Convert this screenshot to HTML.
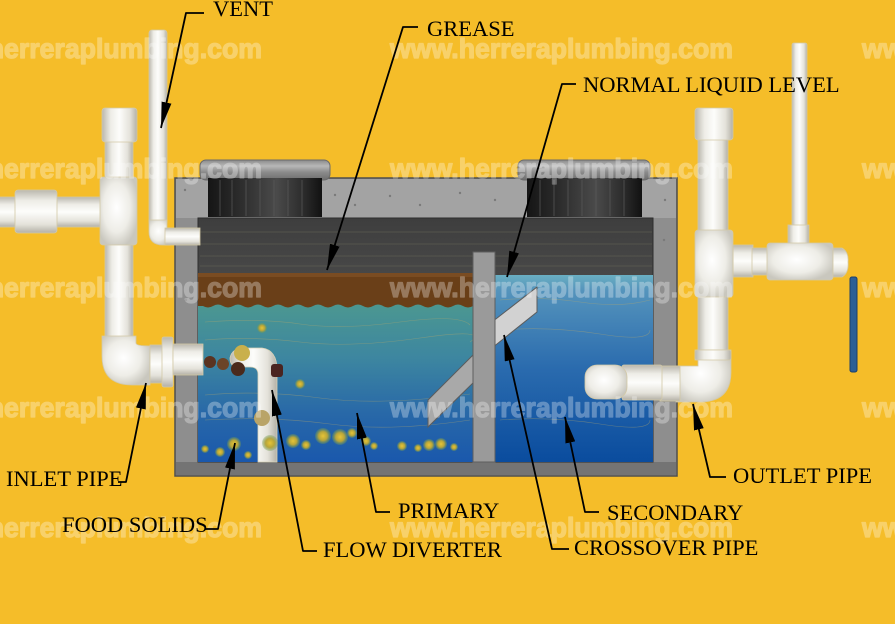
<!DOCTYPE html>
<html><head><meta charset="utf-8"><style>
html,body{margin:0;padding:0;background:#F5BD29;}
svg{display:block;}
</style></head><body>
<svg width="895" height="624" viewBox="0 0 895 624" xmlns="http://www.w3.org/2000/svg">
<defs>
<linearGradient id="gv" x1="0" y1="0" x2="1" y2="0">
<stop offset="0" stop-color="#BAB7AD"/><stop offset="0.25" stop-color="#EEEDE7"/><stop offset="0.5" stop-color="#FDFDFB"/><stop offset="0.8" stop-color="#E4E2DA"/><stop offset="1" stop-color="#B3B0A6"/>
</linearGradient>
<linearGradient id="gh" x1="0" y1="0" x2="0" y2="1">
<stop offset="0" stop-color="#BAB7AD"/><stop offset="0.25" stop-color="#EEEDE7"/><stop offset="0.5" stop-color="#FDFDFB"/><stop offset="0.8" stop-color="#E4E2DA"/><stop offset="1" stop-color="#B3B0A6"/>
</linearGradient>
<radialGradient id="gr" cx="0.45" cy="0.45" r="0.6">
<stop offset="0" stop-color="#FFFFFF"/><stop offset="0.6" stop-color="#EEEDE7"/><stop offset="1" stop-color="#C9C7BE"/>
</radialGradient>
<linearGradient id="dark" x1="0" y1="0" x2="0" y2="1">
<stop offset="0" stop-color="#3E3E3E"/><stop offset="0.3" stop-color="#4A4A4A"/><stop offset="1" stop-color="#404040"/>
</linearGradient>
<linearGradient id="prim" x1="0" y1="0" x2="0" y2="1">
<stop offset="0" stop-color="#4C9890"/><stop offset="0.35" stop-color="#3D86A0"/><stop offset="0.7" stop-color="#2868A8"/><stop offset="1" stop-color="#1A58AC"/>
</linearGradient>
<linearGradient id="sec" x1="0" y1="0" x2="0" y2="1">
<stop offset="0" stop-color="#6AAFC2"/><stop offset="0.08" stop-color="#5594BC"/><stop offset="0.5" stop-color="#2A6BAE"/><stop offset="1" stop-color="#0A4C9E"/>
</linearGradient>
<linearGradient id="hole" x1="0" y1="0" x2="1" y2="0">
<stop offset="0" stop-color="#151515"/><stop offset="0.3" stop-color="#2E2E2E"/><stop offset="0.6" stop-color="#4A4A4A"/><stop offset="0.85" stop-color="#2A2A2A"/><stop offset="1" stop-color="#111"/>
</linearGradient>
<linearGradient id="rim" x1="0" y1="0" x2="0" y2="1">
<stop offset="0" stop-color="#8A8A8A"/><stop offset="0.3" stop-color="#B8B8B8"/><stop offset="0.6" stop-color="#8C8C8C"/><stop offset="1" stop-color="#6E6E6E"/>
</linearGradient>
<radialGradient id="blob" cx="0.5" cy="0.5" r="0.5">
<stop offset="0" stop-color="#E6C437"/><stop offset="0.55" stop-color="#B7A53A"/><stop offset="1" stop-color="#6E9A55" stop-opacity="0.3"/>
</radialGradient>
<marker id="ah" viewBox="0 0 26 10" refX="26" refY="5" markerWidth="26" markerHeight="10" markerUnits="userSpaceOnUse" orient="auto">
<path d="M0,0 L26,5 L0,10 Z" fill="#000"/>
</marker>
</defs>

<rect x="0" y="0" width="895" height="624" fill="#F5BD29"/>

<!-- Tank -->
<rect x="175" y="178" width="502" height="298" fill="#8C8C8C" stroke="#4E4E4E" stroke-width="1.5"/>
<rect x="176" y="179" width="500" height="39" fill="#A3A3A3"/>
<rect x="176" y="218" width="22" height="257" fill="#8E8E8E"/>
<rect x="653" y="218" width="23" height="257" fill="#8E8E8E"/>
<rect x="176" y="462" width="500" height="13" fill="#747474"/>
<rect x="198" y="218" width="455" height="244" fill="url(#dark)" stroke="#2E2E2E" stroke-width="1"/>
<g stroke="#6A6A5A" stroke-width="0.7" opacity="0.6" fill="none">
<path d="M200,232 H652 M200,244 H652 M200,256 H652 M200,266 H652"/>
</g>
<g fill="#7A7A7A">
<circle cx="335" cy="195" r="1.2"/><circle cx="355" cy="205" r="1.2"/><circle cx="390" cy="196" r="1.2"/><circle cx="420" cy="205" r="1.2"/><circle cx="460" cy="193" r="1.2"/><circle cx="495" cy="200" r="1.2"/><circle cx="185" cy="190" r="1.2"/><circle cx="665" cy="200" r="1.2"/><circle cx="664" cy="240" r="1.2"/><circle cx="186" cy="300" r="1.2"/>
</g>

<!-- Manholes -->
<rect x="200" y="160" width="130" height="20" rx="6" fill="url(#rim)" stroke="#6A6A6A"/>
<rect x="208" y="178" width="114" height="39" fill="url(#hole)"/>
<rect x="518" y="160" width="132" height="20" rx="6" fill="url(#rim)" stroke="#6A6A6A"/>
<rect x="527" y="178" width="115" height="39" fill="url(#hole)"/>
<g stroke="#5A5A5A" stroke-width="1" opacity="0.7">
<path d="M220,180 V216 M232,180 V216 M246,180 V216 M260,180 V216 M274,180 V216 M288,180 V216 M302,180 V216 M540,180 V216 M554,180 V216 M568,180 V216 M582,180 V216 M596,180 V216 M610,180 V216 M624,180 V216"/>
</g>

<!-- Primary water -->
<rect x="198" y="302" width="275" height="160" fill="url(#prim)"/>
<!-- Grease -->
<path d="M198,273 H473 V306 Q468,309 463,306 Q458,303 453,306 Q448,309 443,306 Q438,303 433,306 Q428,309 423,306 Q418,303 413,306 Q408,309 403,306 Q398,303 393,306 Q388,309 383,306 Q378,303 373,306 Q368,309 363,306 Q358,303 353,306 Q348,309 343,306 Q338,303 333,306 Q328,309 323,306 Q318,303 313,306 Q308,309 303,306 Q298,303 293,306 Q288,309 283,306 Q278,303 273,306 Q268,309 263,306 Q258,303 253,306 Q248,309 243,306 Q238,303 233,306 Q228,309 223,306 Q218,303 213,306 Q208,309 203,306 L198,306 Z" fill="#6A3F18"/>
<rect x="198" y="273" width="275" height="4" fill="#7A4C22"/>
<!-- Secondary water -->
<rect x="495" y="275" width="158" height="187" fill="url(#sec)"/>

<g stroke="#B8A86A" stroke-width="0.6" fill="none" opacity="0.45">
<path d="M205,322 Q260,318 300,324 T400,322 T470,325"/>
<path d="M205,340 Q250,336 300,342 T420,338 T470,342"/>
<path d="M205,395 Q260,390 320,398 T470,394"/>
<path d="M205,420 Q270,416 330,424 T470,420"/>
<path d="M500,300 Q540,296 580,302 T650,300"/>
<path d="M500,330 Q550,326 600,334 T650,330"/>
<path d="M500,420 Q550,416 600,424 T650,420"/>
</g>

<!-- Crossover pipe -->
<polygon points="428,400 476,352 476,380 428,427" fill="#A9A9A9" stroke="#5C5C5C" stroke-width="1"/>
<polygon points="492,322 537,287 537,312 492,348" fill="#D2D2D2" stroke="#5C5C5C" stroke-width="1"/>
<!-- Divider -->
<rect x="473" y="252" width="22" height="210" fill="#9A9A9A" stroke="#5E5E5E" stroke-width="1"/>

<!-- Flow diverter -->
<path d="M258,462 V374 Q258,367 250,367 H238 Q230,367 230,358 Q232,348 244,348 H262 Q277,350 277,370 V462 Z" fill="url(#gv)" stroke="#D8D2B8" stroke-width="0.8"/>

<!-- Food solids -->
<g>
<circle cx="205" cy="449" r="4" fill="url(#blob)"/>
<circle cx="220" cy="452" r="5" fill="url(#blob)"/>
<circle cx="234" cy="444" r="7" fill="url(#blob)"/>
<circle cx="248" cy="455" r="4" fill="url(#blob)"/>
<circle cx="270" cy="443" r="8" fill="url(#blob)"/>
<circle cx="293" cy="441" r="7" fill="url(#blob)"/>
<circle cx="306" cy="445" r="5" fill="url(#blob)"/>
<circle cx="323" cy="436" r="8" fill="url(#blob)"/>
<circle cx="340" cy="437" r="8" fill="url(#blob)"/>
<circle cx="352" cy="433" r="5" fill="url(#blob)"/>
<circle cx="366" cy="441" r="5" fill="url(#blob)"/>
<circle cx="374" cy="446" r="4" fill="url(#blob)"/>
<circle cx="402" cy="446" r="5" fill="url(#blob)"/>
<circle cx="418" cy="448" r="4" fill="url(#blob)"/>
<circle cx="429" cy="445" r="6" fill="url(#blob)"/>
<circle cx="441" cy="444" r="6" fill="url(#blob)"/>
<circle cx="454" cy="447" r="4" fill="url(#blob)"/>
<circle cx="262" cy="328" r="5" fill="url(#blob)"/>
<circle cx="300" cy="384" r="5" fill="url(#blob)"/>
<circle cx="262" cy="418" r="8" fill="#B9A468"/>
<circle cx="242" cy="353" r="8" fill="#C9B04C"/>
<circle cx="210" cy="362" r="6" fill="#5A3320"/>
<circle cx="223" cy="364" r="6" fill="#6B4428"/>
<circle cx="238" cy="369" r="7" fill="#4A2A1C"/>
<rect x="271" y="364" width="12" height="13" rx="3" fill="#4A2420"/>
</g>

<!-- Inlet pipes -->
<rect x="-2" y="197" width="104" height="30" fill="url(#gh)" stroke="#D3C9A6" stroke-width="0.8"/>
<rect x="15" y="190" width="42" height="43" rx="3" fill="url(#gh)" stroke="#D3C9A6" stroke-width="0.8"/>
<rect x="105" y="140" width="28" height="200" fill="url(#gv)" stroke="#D3C9A6" stroke-width="0.8"/>
<rect x="102" y="108" width="35" height="34" rx="3" fill="url(#gv)" stroke="#D3C9A6" stroke-width="0.8"/>
<rect x="100" y="177" width="37" height="68" rx="3" fill="url(#gr)" stroke="#D3C9A6" stroke-width="0.8"/>
<path d="M102,336 H136 V343 Q136,346 150,346 V385 H132 Q102,385 102,356 Z" fill="url(#gr)" stroke="#D3C9A6" stroke-width="0.8"/>
<rect x="150" y="345" width="13" height="38" fill="url(#gh)" stroke="#D3C9A6" stroke-width="0.8"/>
<rect x="162" y="337" width="11" height="50" rx="2" fill="url(#gh)" stroke="#D3C9A6" stroke-width="0.8"/>
<rect x="173" y="344" width="30" height="31" fill="url(#gh)" stroke="#D3C9A6" stroke-width="0.8"/>

<!-- Vent -->
<rect x="149" y="30" width="18" height="195" rx="3" fill="url(#gv)" stroke="#D3C9A6" stroke-width="0.8"/>
<path d="M149,220 V232 Q149,245 163,245 H170 V228 H167 V220 Z" fill="url(#gr)" stroke="#D3C9A6" stroke-width="0.8"/>
<rect x="165" y="228" width="35" height="17" fill="url(#gh)" stroke="#D3C9A6" stroke-width="0.8"/>

<!-- Outlet pipes -->
<rect x="698" y="138" width="30" height="215" fill="url(#gv)" stroke="#D3C9A6" stroke-width="0.8"/>
<rect x="695" y="108" width="38" height="32" rx="3" fill="url(#gv)" stroke="#D3C9A6" stroke-width="0.8"/>
<rect x="733" y="245" width="20" height="32" fill="url(#gh)" stroke="#D3C9A6" stroke-width="0.8"/>
<rect x="752" y="248" width="16" height="27" fill="url(#gh)" stroke="#D3C9A6" stroke-width="0.8"/>
<rect x="695" y="230" width="38" height="67" rx="3" fill="url(#gr)" stroke="#D3C9A6" stroke-width="0.8"/>
<rect x="792" y="43" width="15" height="185" rx="2" fill="url(#gv)" stroke="#D3C9A6" stroke-width="0.8"/>
<rect x="788" y="225" width="21" height="20" fill="url(#gv)" stroke="#D3C9A6" stroke-width="0.8"/>
<path d="M831,248 H842 Q849,252 848,262 Q849,273 842,277 H831 Z" fill="url(#gh)" stroke="#D3C9A6" stroke-width="0.8"/>
<rect x="767" y="243" width="66" height="37" rx="3" fill="url(#gr)" stroke="#D3C9A6" stroke-width="0.8"/>
<path d="M695,350 H731 V372 Q731,402 700,402 H676 V366 H698 V360 H695 Z" fill="url(#gr)" stroke="#D3C9A6" stroke-width="0.8"/>
<rect x="695" y="350" width="36" height="10" rx="2" fill="url(#gv)" stroke="#D3C9A6" stroke-width="0.8"/>
<rect x="660" y="366" width="20" height="35" fill="url(#gh)" stroke="#D3C9A6" stroke-width="0.8"/>
<rect x="622" y="365" width="40" height="35" rx="2" fill="url(#gh)" stroke="#D3C9A6" stroke-width="0.8"/>
<rect x="585" y="365" width="42" height="34" rx="12" fill="url(#gr)" stroke="#D3C9A6" stroke-width="0.8"/>

<!-- Blue bar -->
<rect x="850" y="277" width="7" height="95" rx="2" fill="#2C5F96" stroke="#1B3F6A" stroke-width="1"/>

<!-- Watermarks -->
<g font-family="Liberation Sans, Arial, sans-serif" font-weight="bold" font-size="28" fill="#FFFFFF" stroke="#FFFFFF" stroke-width="1.3" stroke-linejoin="round" opacity="0.3">
<text x="-81" y="58" textLength="343" lengthAdjust="spacingAndGlyphs">www.herreraplumbing.com</text>
<text x="390" y="58" textLength="343" lengthAdjust="spacingAndGlyphs">www.herreraplumbing.com</text>
<text x="862" y="58" textLength="343" lengthAdjust="spacingAndGlyphs">www.herreraplumbing.com</text>
<text x="-81" y="178" textLength="343" lengthAdjust="spacingAndGlyphs">www.herreraplumbing.com</text>
<text x="390" y="178" textLength="343" lengthAdjust="spacingAndGlyphs">www.herreraplumbing.com</text>
<text x="862" y="178" textLength="343" lengthAdjust="spacingAndGlyphs">www.herreraplumbing.com</text>
<text x="-81" y="297" textLength="343" lengthAdjust="spacingAndGlyphs">www.herreraplumbing.com</text>
<text x="390" y="297" textLength="343" lengthAdjust="spacingAndGlyphs">www.herreraplumbing.com</text>
<text x="862" y="297" textLength="343" lengthAdjust="spacingAndGlyphs">www.herreraplumbing.com</text>
<text x="-81" y="417" textLength="343" lengthAdjust="spacingAndGlyphs">www.herreraplumbing.com</text>
<text x="390" y="417" textLength="343" lengthAdjust="spacingAndGlyphs">www.herreraplumbing.com</text>
<text x="862" y="417" textLength="343" lengthAdjust="spacingAndGlyphs">www.herreraplumbing.com</text>
<text x="-81" y="537" textLength="343" lengthAdjust="spacingAndGlyphs">www.herreraplumbing.com</text>
<text x="390" y="537" textLength="343" lengthAdjust="spacingAndGlyphs">www.herreraplumbing.com</text>
<text x="862" y="537" textLength="343" lengthAdjust="spacingAndGlyphs">www.herreraplumbing.com</text>
</g>

<!-- Leader lines -->
<g fill="none" stroke="#000" stroke-width="1.8" stroke-linejoin="round" marker-end="url(#ah)">
<polyline points="204,13 186,13 161,128"/>
<polyline points="418,27 403,27 327,270"/>
<polyline points="576,84 562,84 507,277"/>
<polyline points="118,482 126,482 146,383"/>
<polyline points="205,529 218,529 235,443"/>
<polyline points="317,551 303,551 272,390"/>
<polyline points="390,512 376,512 357,413"/>
<polyline points="599,512 585,512 565,417"/>
<polyline points="569,549 552,549 504,335"/>
<polyline points="726,477 710,477 693,404"/>
</g>

<!-- Labels -->
<g font-family="Liberation Serif, 'Times New Roman', serif" font-size="22.5" fill="#000">
<text x="213" y="16">VENT</text>
<text x="427" y="36">GREASE</text>
<text x="583" y="92">NORMAL LIQUID LEVEL</text>
<text x="6" y="486">INLET PIPE</text>
<text x="62" y="532">FOOD SOLIDS</text>
<text x="398" y="518">PRIMARY</text>
<text x="323" y="557">FLOW DIVERTER</text>
<text x="607" y="520">SECONDARY</text>
<text x="574" y="555">CROSSOVER PIPE</text>
<text x="733" y="483">OUTLET PIPE</text>
</g>
</svg>
</body></html>
